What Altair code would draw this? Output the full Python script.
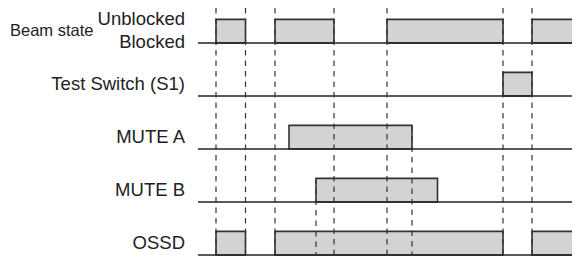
import altair as alt
import pandas as pd

# --- data (time in arbitrary units) ---
signals = ["Beam state", "Test Switch (S1)", "MUTE A", "MUTE B", "OSSD"]
beam_starts = [0, 59, 171, 316]
beam_ends = [29.5, 118, 287, 370]
test_starts = [287]
test_ends = [316]
muteA_starts = [73]
muteA_ends = [196]
muteB_starts = [100]
muteB_ends = [221.5]
ossd_starts = [0, 59, 316]
ossd_ends = [29.5, 287, 370]

# event markers (dashed): full-height and ones starting at a given row
full_events = [0, 29.5, 59, 118, 171, 287, 316]
partial_events = [196, 100]
partial_rows = [2, 3]

T_MIN, T_MAX = -208, 356
LINE_START = -18
HIGH = 0.445
Y_TOP, Y_BOT = -0.6604, 4.0189

pulses = []
for r, (s, e) in enumerate([(beam_starts, beam_ends), (test_starts, test_ends),
                            (muteA_starts, muteA_ends), (muteB_starts, muteB_ends),
                            (ossd_starts, ossd_ends)]):
    for a, b in zip(s, e):
        pulses.append({"row": r, "top": r - HIGH, "start": a, "end": b})
pulses = pd.DataFrame(pulses)

rows = pd.DataFrame({"row": list(range(len(signals))), "name": signals,
                     "x0": LINE_START, "x1": 370})

dashes = pd.DataFrame(
    [{"t": t, "y0": Y_TOP, "y1": Y_BOT} for t in full_events]
    + [{"t": t, "y0": r - HIGH, "y1": Y_BOT} for t, r in zip(partial_events, partial_rows)]
)

xs = alt.Scale(domain=[T_MIN, T_MAX], nice=False, zero=False)
ys = alt.Scale(domain=[Y_TOP, Y_BOT], nice=False, zero=False, reverse=True)

boxes = alt.Chart(pulses).mark_rect(
    fill="#d3d3d3", stroke="#333333", strokeWidth=1.6, clip=True
).encode(
    x=alt.X("start:Q", scale=xs, axis=None),
    x2="end:Q",
    y=alt.Y("top:Q", scale=ys, axis=None),
    y2="row:Q",
)

baselines = alt.Chart(rows).mark_rule(
    color="#222222", strokeWidth=1.3, clip=True
).encode(
    x=alt.X("x0:Q", scale=xs, axis=None),
    x2="x1:Q",
    y=alt.Y("row:Q", scale=ys, axis=None),
)

dashed = alt.Chart(dashes).mark_rule(
    color="#333333", strokeWidth=1.2, strokeDash=[5.5, 5]
).encode(
    x=alt.X("t:Q", scale=xs, axis=None),
    y=alt.Y("y0:Q", scale=ys, axis=None),
    y2="y1:Q",
)

LABEL_X = 177
label_rows = rows[rows["row"] > 0]
labels = alt.Chart(label_rows).mark_text(
    align="right", baseline="alphabetic", font="Liberation Sans",
    fontSize=18.5, color="#222222", dy=-6
).encode(
    x=alt.value(LABEL_X),
    y=alt.Y("row:Q", scale=ys, axis=None),
    text="name:N",
)

beam_df = pd.DataFrame({"row": [0]})
beam_state = alt.Chart(beam_df).mark_text(
    align="left", baseline="alphabetic", font="Liberation Sans",
    fontSize=16.5, color="#222222", dy=-7.3
).encode(x=alt.value(2), y=alt.Y("row:Q", scale=ys, axis=None),
         text=alt.value(signals[0]))
unblocked = alt.Chart(beam_df).mark_text(
    align="right", baseline="alphabetic", font="Liberation Sans",
    fontSize=18.5, color="#222222", dy=-18
).encode(x=alt.value(LABEL_X), y=alt.Y("row:Q", scale=ys, axis=None),
         text=alt.value("Unblocked"))
blocked = alt.Chart(beam_df).mark_text(
    align="right", baseline="alphabetic", font="Liberation Sans",
    fontSize=18.5, color="#222222", dy=5.3
).encode(x=alt.value(LABEL_X), y=alt.Y("row:Q", scale=ys, axis=None),
         text=alt.value("Blocked"))

chart = alt.layer(boxes, baselines, dashed, labels, beam_state, unblocked, blocked).properties(
    width=564, height=248, padding=0, autosize=alt.AutoSizeParams(type="none")
).configure_view(stroke=None)

chart.save("out.html", embed_options={"renderer": "svg", "actions": False})
